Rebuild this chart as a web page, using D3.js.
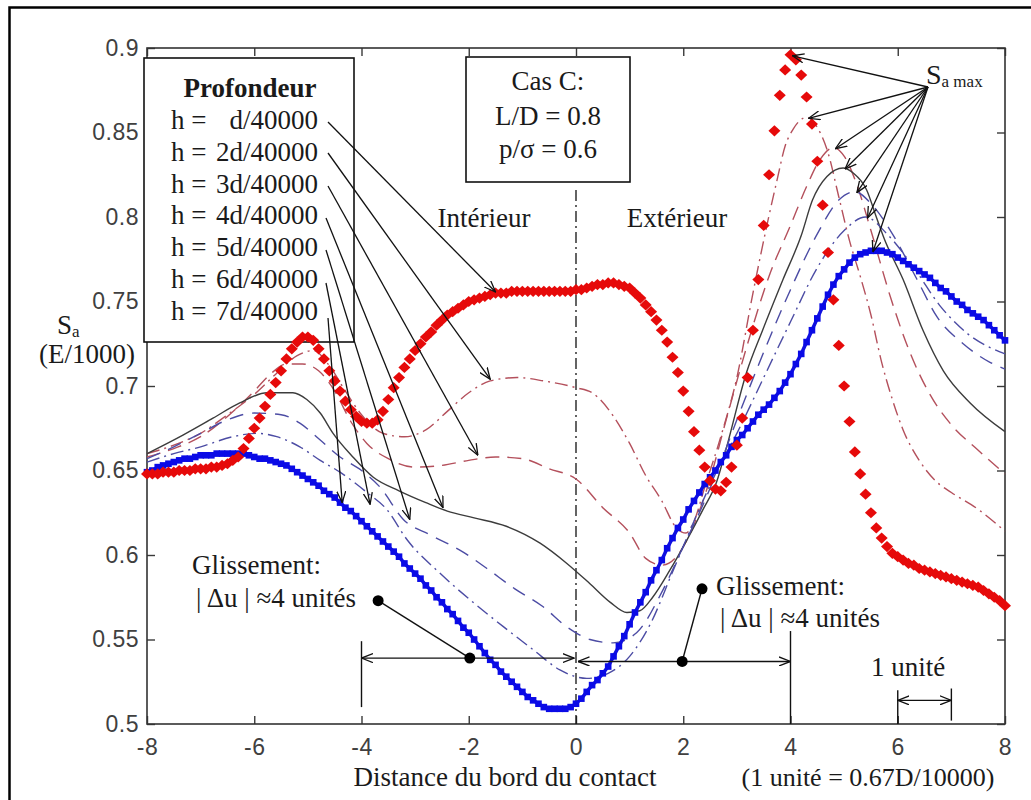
<!DOCTYPE html>
<html>
<head>
<meta charset="utf-8">
<script src="https://cdn.jsdelivr.net/npm/d3@7"></script>
<style>
  body { margin: 0; background: #fff; }
  svg { display: block; }
  .serif { font-family: "Liberation Serif", "Times New Roman", serif; fill: #1a1a1a; }
  .tick text { font-family: "Liberation Sans", Arial, sans-serif; font-size: 23px; fill: #404040; letter-spacing: 0.5px; }
</style>
</head>
<body>
<svg id="chart" width="1031" height="800"></svg>
<script>
// ---- axes ----
const xTicks = [-8, -6, -4, -2, 0, 2, 4, 6, 8];
const xTickLabels = ["-8", "-6", "-4", "-2", "0", "2", "4", "6", "8"];
const yTicks = [0.5, 0.55, 0.6, 0.65, 0.7, 0.75, 0.8, 0.85, 0.9];
const yTickLabels = ["0.5", "0.55", "0.6", "0.65", "0.7", "0.75", "0.8", "0.85", "0.9"];

// ---- depth labels (h = k d/40000) ----
const depthLabels = ["d/40000", "2d/40000", "3d/40000", "4d/40000", "5d/40000", "6d/40000", "7d/40000"];

// ---- marker series, sampled every 0.1 unit from -8 to 8 ----
const gridStart = -8, gridStep = 0.1;
// h = d/40000 (red diamonds)
const saH1 = [
  0.648,0.648,0.648,0.649,0.649,0.649,0.650,0.650,0.650,0.651,
  0.651,0.651,0.652,0.652,0.653,0.654,0.656,0.658,0.663,0.669,
  0.675,0.681,0.688,0.695,0.702,0.709,0.716,0.722,0.726,0.729,
  0.729,0.727,0.722,0.716,0.709,0.703,0.697,0.691,0.686,0.682,
  0.679,0.678,0.678,0.680,0.685,0.692,0.699,0.705,0.711,0.716,
  0.721,0.725,0.729,0.732,0.736,0.739,0.742,0.744,0.746,0.748,
  0.750,0.751,0.752,0.753,0.754,0.755,0.755,0.755,0.756,0.756,
  0.756,0.756,0.756,0.756,0.756,0.756,0.756,0.756,0.756,0.756,
  0.757,0.757,0.758,0.759,0.760,0.760,0.761,0.761,0.760,0.759,
  0.758,0.755,0.752,0.748,0.744,0.739,0.733,0.726,0.717,0.708,
  0.697,0.685,0.673,0.662,0.652,0.644,0.639,0.638,0.643,0.652,
  0.665,0.681,0.705,0.733,0.763,0.795,0.825,0.851,0.872,0.887,
  0.896,0.893,0.884,0.871,0.855,0.833,0.807,0.779,0.751,0.724,
  0.700,0.679,0.661,0.648,0.636,0.625,0.616,0.610,0.605,0.601,
  0.599,0.597,0.595,0.594,0.592,0.591,0.590,0.589,0.588,0.587,
  0.586,0.585,0.584,0.583,0.582,0.581,0.579,0.577,0.575,0.573,
  0.570
];
// h = 7d/40000 (blue dots)
const saH7 = [
  0.649,0.650,0.652,0.653,0.654,0.655,0.656,0.657,0.657,0.658,
  0.659,0.659,0.659,0.660,0.660,0.660,0.660,0.660,0.660,0.659,
  0.658,0.657,0.657,0.656,0.655,0.654,0.653,0.651,0.649,0.647,
  0.645,0.643,0.641,0.638,0.636,0.634,0.631,0.628,0.626,0.623,
  0.620,0.617,0.614,0.611,0.608,0.605,0.602,0.599,0.595,0.592,
  0.589,0.586,0.582,0.579,0.575,0.572,0.568,0.565,0.561,0.557,
  0.554,0.550,0.546,0.542,0.538,0.535,0.531,0.528,0.525,0.522,
  0.519,0.516,0.514,0.512,0.510,0.509,0.509,0.509,0.509,0.510,
  0.512,0.515,0.519,0.523,0.526,0.530,0.534,0.540,0.546,0.552,
  0.559,0.566,0.572,0.578,0.585,0.591,0.597,0.604,0.610,0.616,
  0.621,0.627,0.632,0.637,0.642,0.646,0.650,0.655,0.659,0.664,
  0.668,0.671,0.675,0.679,0.683,0.686,0.689,0.693,0.697,0.702,
  0.707,0.713,0.719,0.726,0.733,0.740,0.747,0.754,0.760,0.765,
  0.769,0.773,0.776,0.778,0.779,0.780,0.780,0.780,0.779,0.778,
  0.776,0.774,0.772,0.770,0.768,0.766,0.764,0.761,0.758,0.756,
  0.753,0.750,0.748,0.745,0.743,0.741,0.739,0.736,0.733,0.730,
  0.727
];

// ---- line series (x positions and S_a values) ----
// h = 2d/40000 (dash-dot, dull red)
const xH2 = [-8,-7.5,-7,-6.5,-6,-5.6,-5.2,-4.9,-4.6,-4.3,-4,-3.6,-3.2,-2.8,-2.4,-2,-1.6,-1.1,-0.6,0,0.3,0.7,1,1.3,1.6,1.85,2.05,2.2,2.4,2.7,3,3.3,3.58,3.75,3.9,4.05,4.3,4.5,4.7,4.9,5.1,5.3,5.5,5.7,5.9,6.1,6.4,6.7,7,7.5,8];
const yH2 = [0.660,0.665,0.672,0.683,0.695,0.707,0.718,0.721,0.712,0.697,0.683,0.672,0.670,0.674,0.685,0.696,0.703,0.705,0.703,0.699,0.696,0.682,0.666,0.647,0.632,0.617,0.613,0.620,0.640,0.670,0.705,0.755,0.798,0.822,0.842,0.852,0.859,0.853,0.838,0.812,0.786,0.765,0.742,0.714,0.692,0.674,0.656,0.644,0.637,0.627,0.614];
// h = 3d/40000 (dashed, dull red)
const xH3 = [-8,-7.5,-7,-6.5,-6,-5.7,-5.4,-5.1,-4.8,-4.5,-4.2,-3.9,-3.5,-3,-2.5,-2,-1.5,-1,-0.5,0,0.5,1,1.3,1.6,1.9,2.2,2.5,2.8,3.2,3.6,4,4.3,4.55,4.8,5,5.25,5.5,5.88,6.2,6.6,7,7.5,8];
const yH3 = [0.658,0.663,0.670,0.682,0.697,0.707,0.713,0.713,0.709,0.697,0.679,0.666,0.657,0.652,0.653,0.656,0.658,0.657,0.651,0.645,0.628,0.613,0.598,0.594,0.600,0.618,0.645,0.680,0.725,0.765,0.795,0.818,0.834,0.841,0.836,0.818,0.792,0.751,0.722,0.695,0.677,0.662,0.648];
// h = 4d/40000 (solid, dark grey)
const xH4 = [-8,-7.33,-6.77,-6.27,-5.76,-5.28,-5.02,-4.77,-4.53,-4.16,-3.78,-3.3,-2.8,-2.4,-1.9,-1.3,-0.67,-0.17,0.26,0.64,0.95,1.19,1.43,1.75,2.07,2.37,2.62,2.81,3.18,3.48,3.86,4.2,4.41,4.68,4.98,5.17,5.42,5.6,5.75,6.1,6.47,6.85,7.35,8];
const yH4 = [0.660,0.671,0.681,0.690,0.696,0.696,0.692,0.684,0.672,0.658,0.646,0.638,0.631,0.626,0.622,0.617,0.607,0.595,0.583,0.572,0.566,0.567,0.575,0.591,0.609,0.627,0.643,0.664,0.708,0.733,0.763,0.789,0.810,0.824,0.829,0.826,0.816,0.800,0.787,0.763,0.733,0.709,0.690,0.673];
// h = 5d/40000 (dashed, slate blue)
const xH5 = [-8,-7.5,-7,-6.5,-6,-5.5,-5.15,-4.77,-4.4,-4,-3.65,-3.22,-2.72,-2.12,-1.66,-1.14,-0.64,-0.15,0.26,0.69,1.13,1.6,2,2.4,2.7,3,3.5,4,4.5,4.9,5.2,5.5,5.9,6.36,6.73,7.22,7.72,8];
const yH5 = [0.657,0.664,0.672,0.680,0.684,0.683,0.678,0.668,0.658,0.650,0.640,0.621,0.612,0.602,0.592,0.580,0.570,0.557,0.550,0.548,0.554,0.578,0.605,0.632,0.655,0.680,0.720,0.757,0.790,0.810,0.815,0.808,0.790,0.763,0.741,0.725,0.714,0.710];
// h = 6d/40000 (dash-dot, slate blue)
const xH6 = [-8,-7.5,-7,-6.4,-5.95,-5.58,-5.15,-4.77,-4.4,-3.9,-3.53,-3.15,-2.53,-1.92,-1.29,-0.8,-0.3,0.2,0.6,1,1.4,1.8,2.2,2.6,3,3.5,4,4.5,5,5.4,5.8,6.3,6.8,7.3,8];
const yH6 = [0.655,0.660,0.664,0.670,0.672,0.670,0.664,0.656,0.649,0.637,0.627,0.609,0.589,0.572,0.556,0.544,0.532,0.527,0.530,0.540,0.560,0.590,0.620,0.648,0.672,0.705,0.738,0.770,0.792,0.800,0.790,0.770,0.747,0.731,0.719];

// ---- layout ----
const svg = d3.select("#chart");
const W = 1031, H = 800;
const plot = { left: 147, right: 1005, top: 48, bottom: 724 };

svg.append("rect").attr("width", W).attr("height", H).attr("fill", "#fff");

// outer frame (left and top edges)
svg.append("path")
  .attr("d", "M9.5,800 V7.5 H1031")
  .attr("fill", "none").attr("stroke", "#000").attr("stroke-width", 2.5);

const x = d3.scaleLinear().domain([-8, 8]).range([plot.left, plot.right]);
const y = d3.scaleLinear().domain([0.5, 0.9]).range([plot.bottom, plot.top]);

// arrowhead markers
const defs = svg.append("defs");
function arrowMarker(id) {
  defs.append("marker")
    .attr("id", id)
    .attr("viewBox", "0 0 12 10")
    .attr("refX", 11.5).attr("refY", 5)
    .attr("markerWidth", 12).attr("markerHeight", 10)
    .attr("markerUnits", "userSpaceOnUse")
    .attr("orient", "auto-start-reverse")
    .append("path")
    .attr("d", "M0,0.5 L11.5,5 L0,9.5")
    .attr("fill", "none").attr("stroke", "#111").attr("stroke-width", 1.3);
}
arrowMarker("arr");

// ---- axes (ticks pointing inward, no labels on top/right) ----
function styleAxis(g) {
  g.select(".domain").remove();
  g.selectAll(".tick line").attr("stroke", "#3a3a3a").attr("stroke-width", 1.4);
}
svg.append("g")
  .attr("transform", `translate(0,${plot.bottom})`)
  .call(d3.axisBottom(x).tickValues(xTicks).tickSize(-8).tickPadding(15)
    .tickFormat((d, i) => xTickLabels[i]))
  .call(styleAxis);
svg.append("g")
  .attr("transform", `translate(0,${plot.top})`)
  .call(d3.axisTop(x).tickValues(xTicks).tickSize(-8).tickFormat(""))
  .call(styleAxis);
svg.append("g")
  .attr("transform", `translate(${plot.left},0)`)
  .call(d3.axisLeft(y).tickValues(yTicks).tickSize(-8).tickPadding(8)
    .tickFormat((d, i) => yTickLabels[i]))
  .call(styleAxis);
svg.append("g")
  .attr("transform", `translate(${plot.right},0)`)
  .call(d3.axisRight(y).tickValues(yTicks).tickSize(-8).tickFormat(""))
  .call(styleAxis);

svg.append("rect")
  .attr("x", plot.left).attr("y", plot.top)
  .attr("width", plot.right - plot.left).attr("height", plot.bottom - plot.top)
  .attr("fill", "none").attr("stroke", "#333").attr("stroke-width", 1.6);

// ---- legend box (drawn under the curves) ----
const legend = svg.append("g");
legend.append("rect")
  .attr("x", 144).attr("y", 58).attr("width", 210).attr("height", 284)
  .attr("fill", "#fff").attr("stroke", "#111").attr("stroke-width", 1.6);
legend.append("text").attr("class", "serif")
  .attr("x", 250).attr("y", 97).attr("text-anchor", "middle")
  .attr("font-size", 27).attr("font-weight", "bold").text("Profondeur");
depthLabels.forEach((lab, i) => {
  const by = 129 + i * 31.8;
  legend.append("text").attr("class", "serif").attr("font-size", 27)
    .attr("x", 171).attr("y", by).text("h =");
  legend.append("text").attr("class", "serif").attr("font-size", 27)
    .attr("x", 318).attr("y", by).attr("text-anchor", "end").text(lab);
});

// ---- case box ----
svg.append("rect")
  .attr("x", 466).attr("y", 57).attr("width", 164).attr("height", 125)
  .attr("fill", "#fff").attr("stroke", "#111").attr("stroke-width", 1.6);
[["Cas C:", 90], ["L/D = 0.8", 125], ["p/σ = 0.6", 158]].forEach(([t, by]) => {
  svg.append("text").attr("class", "serif").attr("font-size", 27)
    .attr("x", 548).attr("y", by).attr("text-anchor", "middle").text(t);
});

// contact edge (x = 0)
svg.append("line")
  .attr("x1", x(0)).attr("x2", x(0)).attr("y1", 190).attr("y2", plot.bottom)
  .attr("stroke", "#111").attr("stroke-width", 1.3)
  .attr("stroke-dasharray", "11,4,2,4");

svg.append("text").attr("class", "serif").attr("font-size", 27)
  .attr("x", 484).attr("y", 227).attr("text-anchor", "middle").text("Intérieur");
svg.append("text").attr("class", "serif").attr("font-size", 27)
  .attr("x", 677).attr("y", 227).attr("text-anchor", "middle").text("Extérieur");

// ---- curves ----
const lineGen = d3.line().x(d => x(d[0])).y(d => y(d[1])).curve(d3.curveMonotoneX);
const lineSeries = [
  { xs: xH2, ys: yH2, color: "#b4505c", dash: "13,5,2,5", width: 1.4 },
  { xs: xH3, ys: yH3, color: "#b4505c", dash: "14,8", width: 1.4 },
  { xs: xH4, ys: yH4, color: "#3c3c3c", dash: null, width: 1.4 },
  { xs: xH5, ys: yH5, color: "#4c4ca4", dash: "14,9", width: 1.4 },
  { xs: xH6, ys: yH6, color: "#4c4ca4", dash: "13,5,2,5", width: 1.4 }
];
lineSeries.forEach(s => {
  s.points = s.xs.map((v, i) => [v, s.ys[i]]);
  svg.append("path")
    .attr("d", lineGen(s.points))
    .attr("fill", "none").attr("stroke", s.color)
    .attr("stroke-width", s.width)
    .attr("stroke-dasharray", s.dash);
});

const gridX = i => +(gridStart + i * gridStep).toFixed(1);
const pts1 = saH1.map((v, i) => [gridX(i), v]);
const pts7 = saH7.map((v, i) => [gridX(i), v]);

// blue dots
svg.append("path")
  .attr("d", d3.line().x(d => x(d[0])).y(d => y(d[1]))(pts7))
  .attr("fill", "none").attr("stroke", "#1010e0").attr("stroke-width", 3.5);
svg.append("g").selectAll("rect").data(pts7).join("rect")
  .attr("x", d => x(d[0]) - 3.3).attr("y", d => y(d[1]) - 3.3)
  .attr("width", 6.6).attr("height", 6.6)
  .attr("fill", "#0a0ae6");

// red diamonds
const diamond = { draw(ctx) { const a = 6, b = 5.6; ctx.moveTo(0, -b); ctx.lineTo(a, 0); ctx.lineTo(0, b); ctx.lineTo(-a, 0); ctx.closePath(); } };
svg.append("g").selectAll("path").data(pts1).join("path")
  .attr("transform", d => `translate(${x(d[0])},${y(d[1])})`)
  .attr("d", d3.symbol(diamond)())
  .attr("fill", "#e60a0a");

// ---- legend leader arrows ----
const legendTargets = [[-1.5, 0.7556], [-1.6, 0.704], [-1.83, 0.659], [-2.48, 0.628], [-3.1, 0.621], [-3.84, 0.630], [-4.36, 0.631]];
const legendStarts = [[328, 122], [328, 153], [328, 186], [326, 218], [326, 250], [326, 283], [328, 318]];
legendTargets.forEach((t, i) => {
  svg.append("line")
    .attr("x1", legendStarts[i][0]).attr("y1", legendStarts[i][1])
    .attr("x2", x(t[0])).attr("y2", y(t[1]))
    .attr("stroke", "#111").attr("stroke-width", 1.3)
    .attr("marker-end", "url(#arr)");
});

// ---- S_a max arrows to each curve's peak ----
const allSeries = [pts1, ...lineSeries.map(s => s.points), pts7];
const apex = [928, 87];
allSeries.forEach(p => {
  const peak = p.reduce((a, b) => (b[1] > a[1] ? b : a));
  svg.append("line")
    .attr("x1", apex[0]).attr("y1", apex[1])
    .attr("x2", x(peak[0]) + 2).attr("y2", y(peak[1]) + 1)
    .attr("stroke", "#111").attr("stroke-width", 1.3)
    .attr("marker-end", "url(#arr)");
});
const smax = svg.append("text").attr("class", "serif").attr("x", 926).attr("y", 84);
smax.append("tspan").attr("font-size", 28).text("S");
smax.append("tspan").attr("font-size", 17).attr("dy", 3).text("a max");

// ---- slip annotations ----
function dot(px, py) {
  svg.append("circle").attr("cx", px).attr("cy", py).attr("r", 5.5).attr("fill", "#000");
}
function seg(x1, y1, x2, y2, both) {
  const l = svg.append("line").attr("x1", x1).attr("y1", y1).attr("x2", x2).attr("y2", y2)
    .attr("stroke", "#111").attr("stroke-width", 1.4);
  if (both) l.attr("marker-start", "url(#arr)").attr("marker-end", "url(#arr)");
  return l;
}
// inside slip (-4 .. 0)
seg(x(-4), y(0.549), x(-4), y(0.51));
seg(x(-4), y(0.539), x(0) - 2, y(0.539), true);
seg(x(-3.69), y(0.573), x(-1.98), y(0.539));
dot(x(-3.69), y(0.573));
dot(x(-1.98), y(0.539));
svg.append("text").attr("class", "serif").attr("font-size", 27).attr("x", 192).attr("y", 574).text("Glissement:");
svg.append("text").attr("class", "serif").attr("font-size", 27).attr("x", 196).attr("y", 607).text("| Δu | ≈4 unités");

// outside slip (0 .. 4)
seg(x(4), y(0.555), x(4), y(0.5));
seg(x(0) + 2, y(0.537), x(4), y(0.537), true);
seg(x(2.35), y(0.580), x(1.98), y(0.537));
dot(x(2.35), y(0.580));
dot(x(1.98), y(0.537));
svg.append("text").attr("class", "serif").attr("font-size", 27).attr("x", 716).attr("y", 595).text("Glissement:");
svg.append("text").attr("class", "serif").attr("font-size", 27).attr("x", 720).attr("y", 627).text("| Δu | ≈4 unités");

// unit scale bar
seg(x(6), y(0.52), x(6), y(0.5));
seg(x(7), y(0.521), x(7), y(0.502));
seg(x(6), y(0.514), x(7), y(0.514), true);
svg.append("text").attr("class", "serif").attr("font-size", 27).attr("x", 908).attr("y", 676).attr("text-anchor", "middle").text("1 unité");

// ---- axis titles ----
const ylab = svg.append("text").attr("class", "serif").attr("x", 57).attr("y", 334);
ylab.append("tspan").attr("font-size", 27).text("S");
ylab.append("tspan").attr("font-size", 17).attr("dy", 3).text("a");
svg.append("text").attr("class", "serif").attr("font-size", 27).attr("x", 505).attr("y", 786).attr("text-anchor", "middle").text("Distance du bord du contact");
svg.append("text").attr("class", "serif").attr("font-size", 26).attr("x", 868).attr("y", 786).attr("text-anchor", "middle").text("(1 unité = 0.67D/10000)");
svg.append("text").attr("class", "serif").attr("font-size", 27).attr("x", 87).attr("y", 363).attr("text-anchor", "middle").text("(E/1000)");
</script>
</body>
</html>
